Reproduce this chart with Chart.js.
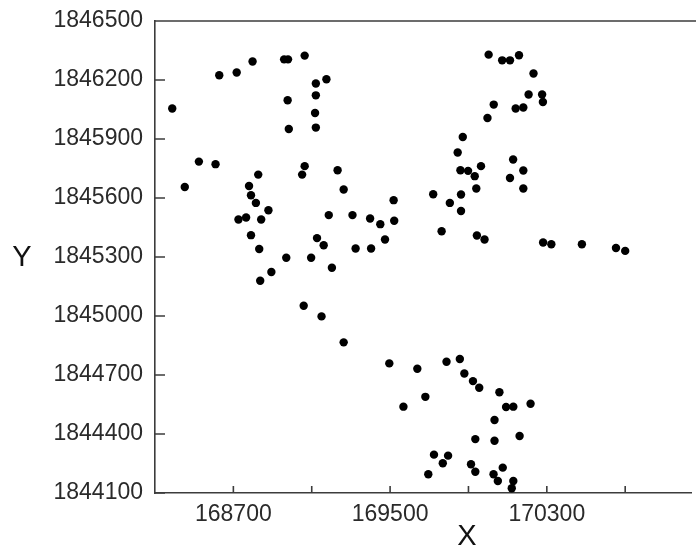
<!DOCTYPE html>
<html><head><meta charset="utf-8">
<script src="https://cdn.jsdelivr.net/npm/chart.js@4/dist/chart.umd.min.js"></script>
<style>html,body{margin:0;padding:0;background:#fff;overflow:hidden}</style>
</head><body>
<canvas id="c" width="696" height="547"></canvas>
<script>
const xValues = [168388,168628,168717,168798,168959,168979,169064,168977,168983,169121,169175,169121,169117,169121,
168524,168609,168452,168780,168790,168815,168827,168879,168726,168765,168842,168790,168832,169064,169051,169232,
169263,169187,169127,169161,168970,169097,169203,168894,168837,169059,169150,169263,169308,169324,169403,169398,
169450,169518,169521,169474,169720,169763,169805,169862,169862,169845,169871,169859,169898,169932,169964,169940,
169943,169982,170003,170072,170112,170158,170232,170029,169997,170207,170276,170280,170141,170180,170128,170180,
170112,170180,170281,170323,170479,170653,170700,169496,169639,169788,169856,169879,169923,169955,170058,169568,
169680,170092,170129,170217,170033,169935,170033,170161,169724,169796,169769,169695,169913,169935,170028,170050,
170075,170129,170121];
const yValues = [1846055,1846224,1846238,1846294,1846305,1846305,1846324,1846097,1845951,1846182,1846204,1846122,1846032,1845958,
1845785,1845772,1845656,1845661,1845614,1845575,1845719,1845538,1845491,1845501,1845491,1845411,1845341,1845762,1845719,1845741,
1845643,1845513,1845396,1845360,1845296,1845296,1845245,1845224,1845179,1845052,1844998,1844866,1845513,1845343,1845343,1845496,
1845467,1845589,1845484,1845389,1845619,1845431,1845575,1845618,1845534,1845831,1845910,1845741,1845738,1845711,1845762,1845648,
1845409,1845389,1846329,1846300,1846300,1846326,1846233,1846075,1846007,1846126,1846126,1846088,1846055,1846060,1845796,1845740,
1845702,1845648,1845374,1845365,1845365,1845346,1845331,1844759,1844732,1844767,1844781,1844708,1844669,1844635,1844612,1844539,
1844589,1844537,1844539,1844554,1844471,1844374,1844366,1844390,1844295,1844290,1844251,1844195,1844246,1844208,1844195,1844161,
1844229,1844161,1844124];
const xTicks = [168700,169100,169500,169900,170300,170700];
const xTickLabels = [168700,169500,170300];
const yTicks = [1844100,1844400,1844700,1845000,1845300,1845600,1845900,1846200,1846500];
const xRange = [168300,171040];
const yRange = [1844100,1846500];
const xTitle = 'X';
const yTitle = 'Y';

const axisColor = '#3c3c3c';
const textColor = '#2a2a2a';
const font = '"Liberation Sans", Arial, sans-serif';

const points = xValues.map((v,i)=>({x:v,y:yValues[i]}));

const decor = {
  id:'decor',
  afterDraw(chart){
    const {ctx, chartArea:a, scales:{x,y}} = chart;
    ctx.save();
    ctx.strokeStyle = axisColor; ctx.lineWidth = 1.6;
    ctx.beginPath();
    ctx.moveTo(a.left, a.top); ctx.lineTo(chart.width, a.top);
    xTicks.forEach(v=>{const p=x.getPixelForValue(v); ctx.moveTo(p,a.bottom); ctx.lineTo(p,a.bottom-7);});
    yTicks.forEach(v=>{const p=y.getPixelForValue(v); ctx.moveTo(a.left,p); ctx.lineTo(a.left+10,p);});
    ctx.stroke();
    ctx.fillStyle = '#111';
    ctx.font = '29px ' + font;
    ctx.textAlign = 'center'; ctx.textBaseline = 'middle';
    ctx.fillText(yTitle, 22, 258);
    ctx.fillText(xTitle, 467, 537);
    ctx.restore();
  }
};

new Chart(document.getElementById('c'), {
  type:'scatter',
  data:{datasets:[{data:points, backgroundColor:'#000', borderColor:'#000', borderWidth:0, pointRadius:4.2, pointHoverRadius:4.2}]},
  options:{
    responsive:false, devicePixelRatio:1, animation:false,
    layout:{padding:{top:21,left:0,right:0,bottom:0}},
    plugins:{legend:{display:false}, tooltip:{enabled:false}},
    scales:{
      x:{type:'linear', min:xRange[0], max:xRange[1],
        afterBuildTicks: s=>{ s.ticks = xTicks.map(v=>({value:v})); },
        afterFit: s=>{ s.height = 54; s.paddingLeft = 0; s.paddingRight = 0; },
        grid:{display:true, drawOnChartArea:false, drawTicks:false, color:'rgba(0,0,0,0)'},
        border:{display:true, color:axisColor, width:1.6},
        ticks:{autoSkip:false, maxRotation:0, padding:8, color:textColor, font:{family:font, size:23},
          callback: v => xTickLabels.includes(v) ? String(v) : ''}
      },
      y:{type:'linear', min:yRange[0], max:yRange[1],
        afterBuildTicks: s=>{ s.ticks = yTicks.map(v=>({value:v})); },
        afterFit: s=>{ s.width = 155; s.paddingTop = 0; s.paddingBottom = 0; },
        grid:{display:true, drawOnChartArea:false, drawTicks:false, color:'rgba(0,0,0,0)'},
        border:{display:true, color:axisColor, width:1.6},
        ticks:{autoSkip:false, padding:12, color:textColor, font:{family:font, size:23},
          callback: v => String(v)}
      }
    }
  },
  plugins:[decor]
});
</script>
</body></html>
